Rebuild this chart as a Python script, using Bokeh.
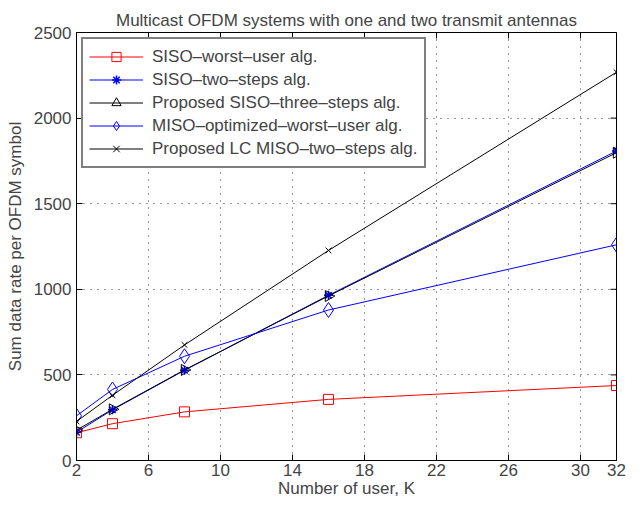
import numpy as np
from bokeh.plotting import figure
from bokeh.models import (FixedTicker, Range1d, Legend, LegendItem, ColumnDataSource)
from bokeh.embed import file_html
from bokeh.resources import INLINE

users = [2, 4, 8, 16, 32]
siso_worst = [162, 215, 284, 357, 438]
siso_two = [165, 296, 527, 965, 1808]
siso_three = [177, 299, 529, 961, 1798]
miso_opt = [261, 415, 609, 879, 1260]
lc_miso = [228, 381, 675, 1227, 2268]

x_ticks = [2, 6, 10, 14, 18, 22, 26, 30, 32]
y_ticks = [0, 500, 1000, 1500, 2000, 2500]

FONT = "Liberation Sans"
FS = "17px"

p = figure(width=626, height=500, output_backend="svg", toolbar_location=None,
           x_range=Range1d(x_ticks[0], x_ticks[-1]), y_range=Range1d(y_ticks[0], y_ticks[-1]),
           min_border_left=76, min_border_right=10, min_border_top=32, min_border_bottom=40)
p.title.text = "Multicast OFDM systems with one and two transmit antennas"
p.title.align = "center"
p.title.text_font = FONT
p.title.text_font_size = FS
p.title.text_font_style = "normal"
p.title.standoff = 6

p.outline_line_color = "black"
p.outline_line_width = 1

for ax in (p.xaxis[0], p.yaxis[0]):
    ax.major_label_text_font = FONT
    ax.major_label_text_font_size = FS
    ax.axis_label_text_font = FONT
    ax.axis_label_text_font_size = FS
    ax.axis_label_text_font_style = "normal"
    ax.major_tick_in = 6
    ax.major_tick_out = 0
    ax.minor_tick_in = 0
    ax.minor_tick_out = 0
    ax.axis_line_color = "black"
    ax.major_tick_line_color = "black"
p.xaxis.ticker = FixedTicker(ticks=x_ticks)
p.yaxis.ticker = FixedTicker(ticks=y_ticks)
p.xaxis.axis_label = "Number of user, K"
p.yaxis.axis_label = "Sum data rate per OFDM symbol"
p.xaxis.major_label_standoff = 3
p.yaxis.major_label_standoff = 5
p.xaxis.axis_label_standoff = 0
p.yaxis.axis_label_standoff = 6

p.xgrid.ticker = FixedTicker(ticks=x_ticks)
p.ygrid.ticker = FixedTicker(ticks=y_ticks)
for g in (p.xgrid[0], p.ygrid[0]):
    g.grid_line_color = "black"
    g.grid_line_dash = "1 6"
    g.grid_line_width = 1
    g.grid_line_alpha = 0.8

# mirrored inward ticks on top and right edges
p.scatter(x_ticks, [y_ticks[-1]] * len(x_ticks), marker="dash", angle=np.pi / 2,
          size=12, line_color="black", line_width=1)
p.scatter([x_ticks[-1]] * len(y_ticks), y_ticks, marker="dash",
          size=12, line_color="black", line_width=1)

items = []
l1 = p.line(users, siso_worst, color="red", line_width=1)
m1 = p.scatter(users, siso_worst, marker="square", size=10, line_color="red", fill_color=None)
items.append(LegendItem(label="SISO\u2013worst\u2013user alg.", renderers=[l1, m1]))

l2 = p.line(users, siso_two, color="blue", line_width=1)
m2 = p.scatter(users, siso_two, marker="asterisk", size=9, line_color="blue", line_width=1.5)
items.append(LegendItem(label="SISO\u2013two\u2013steps alg.", renderers=[l2, m2]))

src3 = ColumnDataSource(dict(x=users, y=siso_three, ang=[-np.pi / 2] * len(users)))
l3 = p.line("x", "y", source=src3, color="black", line_width=1)
m3 = p.scatter("x", "y", source=src3, marker="triangle", angle="ang", size=11,
               line_color="black", fill_color=None)
items.append(LegendItem(label="Proposed SISO\u2013three\u2013steps alg.", renderers=[l3, m3], index=0))

l4 = p.line(users, miso_opt, color="blue", line_width=1)
m4 = p.scatter(users, miso_opt, marker="diamond", size=15, line_color="blue", fill_color=None)
items.append(LegendItem(label="MISO\u2013optimized\u2013worst\u2013user alg.", renderers=[l4, m4]))

l5 = p.line(users, lc_miso, color="black", line_width=1)
m5 = p.scatter(users, lc_miso, marker="x", size=8, line_color="black")
items.append(LegendItem(label="Proposed LC MISO\u2013two\u2013steps alg.", renderers=[l5, m5]))

legend = Legend(items=items, location="top_left")
legend.label_text_font = FONT
legend.label_text_font_size = FS
legend.border_line_color = "black"
legend.border_line_width = 2
legend.background_fill_color = "white"
legend.background_fill_alpha = 1
legend.spacing = 0
legend.padding = 6
legend.margin = 5
legend.glyph_width = 54
legend.label_height = 23
legend.glyph_height = 23
legend.label_standoff = 9
p.add_layout(legend)

open("out.html", "w").write(file_html(p, INLINE))
